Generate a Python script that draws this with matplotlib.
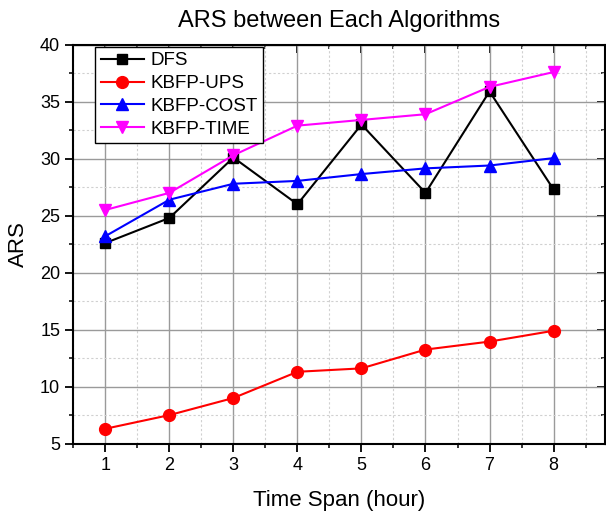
import matplotlib.pyplot as plt
from matplotlib.ticker import MultipleLocator

plt.rcParams['font.family'] = ['Liberation Sans', 'DejaVu Sans']

hours = [1, 2, 3, 4, 5, 6, 7, 8]
dfs = [22.6, 24.8, 30.1, 26.0, 33.0, 27.0, 35.9, 27.3]
kbfp_ups = [6.3, 7.5, 9.0, 11.3, 11.6, 13.25, 13.95, 14.9]
kbfp_cost = [23.2, 26.4, 27.8, 28.05, 28.65, 29.15, 29.4, 30.05]
kbfp_time = [25.5, 27.0, 30.3, 32.9, 33.4, 33.9, 36.3, 37.6]

fig = plt.figure(figsize=(6.06, 5.14), dpi=100)
ax = fig.add_axes([0.121, 0.137, 0.877, 0.776])

ax.plot(hours, dfs, color='black', marker='s', ms=7, lw=1.5, label='DFS', zorder=3)
ax.plot(hours, kbfp_ups, color='red', marker='o', ms=8.5, lw=1.5, label='KBFP-UPS', zorder=3)
ax.plot(hours, kbfp_cost, color='blue', marker='^', ms=8.5, lw=1.5, label='KBFP-COST', zorder=3)
ax.plot(hours, kbfp_time, color='magenta', marker='v', ms=8.5, lw=1.5, label='KBFP-TIME', zorder=3)

ax.set_xlim(0.5, 8.8)
ax.set_ylim(5, 40)
ax.xaxis.set_major_locator(MultipleLocator(1))
ax.xaxis.set_minor_locator(MultipleLocator(0.5))
ax.yaxis.set_major_locator(MultipleLocator(5))
ax.yaxis.set_minor_locator(MultipleLocator(2.5))
ax.set_xticks(hours)

ax.grid(which='major', color='#9a9a9a', lw=1, ls='-')
ax.grid(which='minor', color='#d0d0d0', lw=0.8, ls=(0, (2, 2)))
ax.set_axisbelow(True)

for s in ax.spines.values():
    s.set_linewidth(1.5)
ax.tick_params(which='major', direction='out', length=6, width=1.3, labelsize=13)
ax.tick_params(which='minor', direction='out', length=3, width=1.1)

# inward ticks on top and right
top = ax.secondary_xaxis('top')
top.xaxis.set_major_locator(MultipleLocator(1))
top.xaxis.set_minor_locator(MultipleLocator(0.5))
top.tick_params(which='major', direction='in', length=6, width=1.3, labeltop=False)
top.tick_params(which='minor', direction='in', length=3, width=1.1)
right = ax.secondary_yaxis('right')
right.yaxis.set_major_locator(MultipleLocator(5))
right.yaxis.set_minor_locator(MultipleLocator(2.5))
right.tick_params(which='major', direction='in', length=6, width=1.3, labelright=False)
right.tick_params(which='minor', direction='in', length=3, width=1.1)

ax.set_title('ARS between Each Algorithms', fontsize=17, pad=13)
ax.set_xlabel('Time Span (hour)', fontsize=16, labelpad=12)
ax.set_ylabel('ARS', fontsize=16, labelpad=8)

leg = ax.legend(loc='upper left', bbox_to_anchor=(0.041, 0.995), borderaxespad=0,
                fontsize=13.5, handlelength=2.3, handletextpad=0.35, labelspacing=0.3,
                borderpad=0.3, fancybox=False, framealpha=1, edgecolor='black')
leg.get_frame().set_linewidth(1.0)

fig.savefig('out.png', dpi=100)
